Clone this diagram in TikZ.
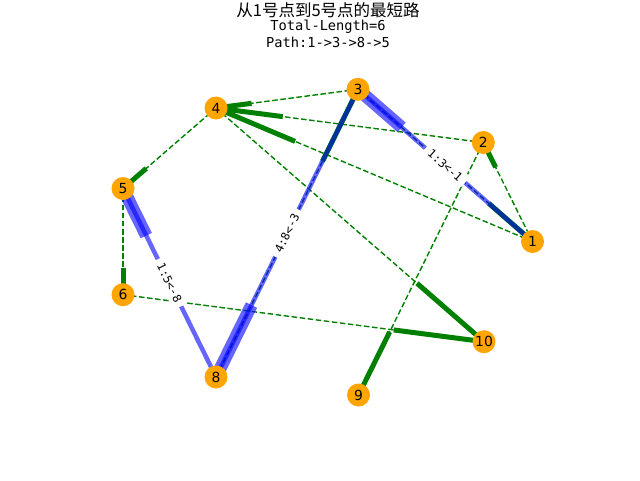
\documentclass[tikz,border=0pt]{standalone}
\usepackage{fontspec}
\newfontfamily\cjkfont{Noto Sans CJK SC}
\newfontfamily\monofont{DejaVu Sans Mono}
\newfontfamily\nodefont{DejaVu Sans}
\usetikzlibrary{calc}
\definecolor{mplgreen}{RGB}{0,128,0}
\definecolor{mplorange}{RGB}{255,165,0}
\definecolor{mplblue}{RGB}{0,0,255}
\tikzset{
 vertex/.style={circle, fill=mplorange, minimum size=23pt, inner sep=0pt, font=\nodefont\fontsize{13.9}{14}\selectfont},
 gedge/.style={draw=mplgreen, line width=1.4pt, dash pattern=on 5.5pt off 2.6pt},
 ghead/.style={draw=mplgreen, line width=5pt},
 bedge/.style={draw=mplblue, draw opacity=0.6, line width=4.5pt},
 bhead/.style={draw=mplblue, draw opacity=0.6, line width=12.5pt},
 elabel/.style={fill=white, rounded corners=3pt, inner xsep=5.5pt, inner ysep=3.5pt, sloped, font=\monofont\fontsize{11.5}{12}\selectfont},
 titlecjk/.style={anchor=base, inner sep=0pt, font=\cjkfont\fontsize{16.5}{17}\selectfont},
 titlemono/.style={anchor=base, inner sep=0pt, font=\monofont\fontsize{13.7}{14}\selectfont}
}
\begin{document}
\begin{tikzpicture}[x=1pt,y=-1pt]
\useasboundingbox (0,0) rectangle (640,480);
\fill[white] (0,0) rectangle (640,480);
% node positions (coordinates first, nodes drawn last)
\coordinate (p1) at (532.5,241.5);
\coordinate (p2) at (483.3,142.5);
\coordinate (p3) at (358,89.3);
\coordinate (p4) at (216,108);
\coordinate (p5) at (123,188.5);
\coordinate (p6) at (123,294.7);
\coordinate (p8) at (216,377);
\coordinate (p9) at (358.5,395);
\coordinate (p10) at (484,341.7);
% green graph edges: dashed full line, thick part at the head
\foreach \a/\b in {3/4,2/4,1/4,4/5,5/6,4/10,6/10,2/9,1/2,8/3,3/1}{
  \draw[gedge] (p\a) -- (p\b);
  \draw[ghead] (p\b) -- ($(p\b)!0.25!(p\a)$);
}
% blue shortest path edges
\foreach \a/\b in {1/3,3/8,8/5}{
  \draw[bedge] (p\a) -- (p\b);
  \draw[bhead] (p\b) -- ($(p\b)!0.25!(p\a)$);
}
% edge labels
\path (p3) -- (p1) node[midway, elabel] (l13) {1:3<-1};
\path (p8) -- (p3) node[midway, elabel] (l38) {4:8<-3};
\path (p5) -- (p8) node[midway, elabel] (l85) {1:5<-8};
% nodes
\foreach \i in {1,2,3,4,5,6,8,9,10}{
  \node[vertex] (n\i) at (p\i) {\i};
}
% title
\node[titlecjk] (t1) at (328,16.5) {从1号点到5号点的最短路};
\node[titlemono] (t2) at (328,30.5) {Total-Length=6};
\node[titlemono] (t3) at (328,47.5) {Path:1->3->8->5};
\end{tikzpicture}
\end{document}
